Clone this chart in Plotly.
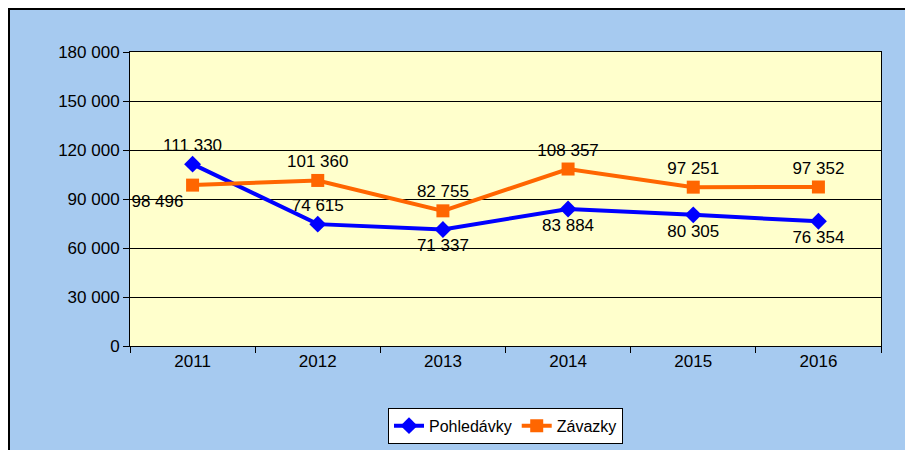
import plotly.graph_objects as go

years = ["2011", "2012", "2013", "2014", "2015", "2016"]
pohledavky = [111330, 74615, 71337, 83884, 80305, 76354]
zavazky = [98496, 101360, 82755, 108357, 97251, 97352]
tick_vals = [0, 30000, 60000, 90000, 120000, 150000, 180000]
tick_text = ["0", "30 000", "60 000", "90 000", "120 000", "150 000", "180 000"]

def fmt(v):
    return f"{v:,}".replace(",", " ")

pos_p = ["top center", "top center", "bottom center", "bottom center", "bottom center", "bottom center"]
pos_z = ["bottom left", "top center", "top center", "top center", "top center", "top center"]

font = "Liberation Sans, Arial, sans-serif"

fig = go.Figure()
fig.add_trace(go.Scatter(
    x=years, y=pohledavky, name="Pohledávky", mode="lines+markers+text",
    line=dict(color="#0000FF", width=4),
    marker=dict(symbol="diamond", size=13, color="#0000FF"),
    text=[fmt(v) for v in pohledavky], textposition=pos_p,
    textfont=dict(size=17, color="black"),
))
fig.add_trace(go.Scatter(
    x=years, y=zavazky, name="Závazky", mode="lines+markers+text",
    line=dict(color="#FF6600", width=4),
    marker=dict(symbol="square", size=13, color="#FF6600"),
    text=[fmt(v) for v in zavazky], textposition=pos_z,
    textfont=dict(size=17, color="black"),
))

fig.update_layout(
    width=913, height=450,
    paper_bgcolor="#A6CAF0", plot_bgcolor="#FFFFCC",
    margin=dict(l=122, r=40, t=44, b=112, autoexpand=False),
    font=dict(family=font, size=17, color="black"),
    showlegend=True,
    legend=dict(orientation="h", x=0.5, xanchor="center", y=-0.21, yanchor="top",
                bgcolor="white", bordercolor="black", borderwidth=1,
                font=dict(size=16)),
    xaxis=dict(type="category", range=[-0.5, 5.5], showgrid=False, automargin=False,
               showline=True, linecolor="black", linewidth=1, mirror=True,
               ticks="outside", ticklen=6, tickcolor="black", tickson="boundaries",
               tickfont=dict(size=17)),
    yaxis=dict(range=[0, 180000], tickvals=tick_vals, ticktext=tick_text, automargin=False,
               showgrid=True, gridcolor="black", gridwidth=1,
               showline=True, linecolor="black", mirror=True,
               ticks="outside", ticklen=6, tickcolor="black",
               zeroline=False, tickfont=dict(size=17)),
    shapes=[dict(type="rect", xref="paper", yref="paper",
                 x0=-121 / 751, x1=1 + 39 / 751,
                 y0=-111 / 294, y1=1 + 43 / 294, line=dict(color="black", width=2))],
)

fig.write_html("out.html")
